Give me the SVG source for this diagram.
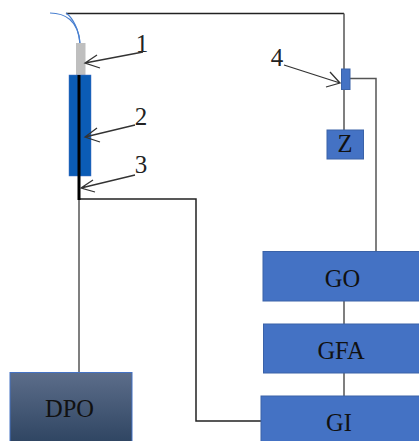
<svg xmlns="http://www.w3.org/2000/svg" width="419" height="441" viewBox="0 0 419 441">
<style>
.box{fill:#4472c4;stroke:#3a62a8;stroke-width:1}
.lbl{font-family:"Liberation Serif",serif;font-size:24.500px;fill:#111;text-anchor:middle}
.num{font-family:"Liberation Serif",serif;font-size:25px;fill:#222;text-anchor:middle}
.wire{fill:none;stroke:#555;stroke-width:1.5}
.blk{fill:none;stroke:#222;stroke-width:1.5}
.fib{fill:none;stroke:#4a80d0;stroke-width:1.2}
.ptr{fill:none;stroke:#333;stroke-width:1.3}
</style>
<defs>
<linearGradient id="dpo" x1="0" y1="0" x2="0" y2="1">
<stop offset="0" stop-color="#5c6d8a"/>
<stop offset="1" stop-color="#2f4562"/>
</linearGradient>
</defs>
<rect width="419" height="441" fill="#fff"/>
<g id="connectors">
<path class="blk" d="M66 13.500H344"/>
<path class="wire" d="M344 13.500V130"/>
<path class="wire" d="M350 78.500H376V251"/>
<path class="wire" d="M344 301V324"/>
<path class="wire" d="M344 373V396"/>
<path class="wire" d="M79 200V372"/>
<path class="blk" d="M79 199H196V421H261"/>
<path class="fib" d="M50 13C64 13 79 20 80 44"/>
<path class="fib" d="M66 13C73 18 79 30 80 44"/>
</g>
<g id="probe">
<rect x="76" y="43" width="9.500" height="33" fill="#bfbfbf"/>
<rect x="69" y="75" width="22" height="101" fill="#0b5cb5" stroke="#4472c4" stroke-width="0.500"/>
<path d="M79 75V200" stroke="#000" stroke-width="3" fill="none"/>
</g>
<g id="n1">
<text class="num" x="142" y="52">1</text>
<path class="ptr" d="M143 52L85 63M97 55L85 63L100 68"/>
</g>
<g id="n2">
<text class="num" x="141" y="125">2</text>
<path class="ptr" d="M135 125L85 137M97 128L85 137L100 142"/>
</g>
<g id="n3">
<text class="num" x="141" y="173">3</text>
<path class="ptr" d="M135 175L81 188M93 180L81 188L95 192"/>
</g>
<g id="n4">
<text class="num" x="277" y="66">4</text>
<path class="ptr" d="M284 65L340 83M330 72L340 83L326 87"/>
<rect x="341.500" y="69" width="8.500" height="20.500" class="box"/>
</g>
<g id="Z">
<rect class="box" x="327" y="130" width="36.500" height="29"/>
<text class="lbl" x="345" y="152">Z</text>
</g>
<g id="GO">
<rect class="box" x="263" y="251.500" width="157" height="49.500"/>
<text class="lbl" x="342.500" y="287">GO</text>
</g>
<g id="GFA">
<rect class="box" x="263.500" y="324" width="157" height="49"/>
<text class="lbl" x="341" y="359">GFA</text>
</g>
<g id="GI">
<rect class="box" x="261" y="396" width="159" height="46"/>
<text class="lbl" x="339" y="431">GI</text>
</g>
<g id="DPO">
<rect x="10" y="372.500" width="122" height="70" fill="url(#dpo)" stroke="#4472c4" stroke-width="1"/>
<text class="lbl" x="69.500" y="417">DPO</text>
</g>
</svg>
